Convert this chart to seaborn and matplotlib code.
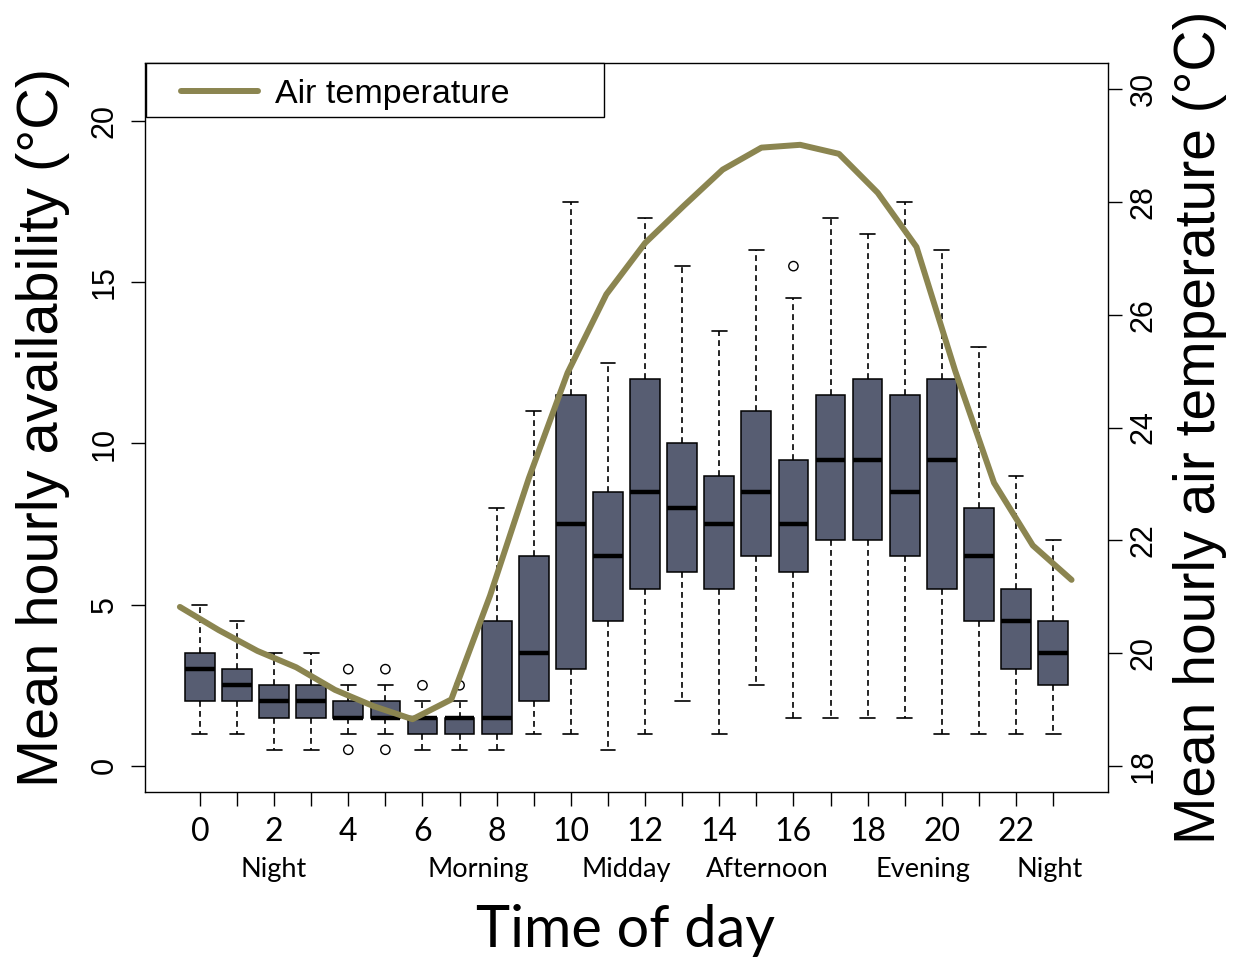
import numpy as np
import pandas as pd
import seaborn as sns
import matplotlib.pyplot as plt
from matplotlib.patches import Rectangle
from matplotlib.transforms import blended_transform_factory

# ---- data -------------------------------------------------------------
hours = list(range(24))
whisker_low = [1.0, 1.0, 0.5, 0.5, 1.0, 1.0, 0.5, 0.5, 0.5, 1.0, 1.0, 0.5,
               1.0, 2.0, 1.0, 2.5, 1.5, 1.5, 1.5, 1.5, 1.0, 1.0, 1.0, 1.0]
q1 = [2.0, 2.0, 1.5, 1.5, 1.5, 1.5, 1.0, 1.0, 1.0, 2.0, 3.0, 4.5,
      5.5, 6.0, 5.5, 6.5, 6.0, 7.0, 7.0, 6.5, 5.5, 4.5, 3.0, 2.5]
median = [3.0, 2.5, 2.0, 2.0, 1.5, 1.5, 1.5, 1.5, 1.5, 3.5, 7.5, 6.5,
          8.5, 8.0, 7.5, 8.5, 7.5, 9.5, 9.5, 8.5, 9.5, 6.5, 4.5, 3.5]
q3 = [3.5, 3.0, 2.5, 2.5, 2.0, 2.0, 1.5, 1.5, 4.5, 6.5, 11.5, 8.5,
      12.0, 10.0, 9.0, 11.0, 9.5, 11.5, 12.0, 11.5, 12.0, 8.0, 5.5, 4.5]
whisker_high = [5.0, 4.5, 3.5, 3.5, 2.5, 2.5, 2.0, 2.0, 8.0, 11.0, 17.5, 12.5,
                17.0, 15.5, 13.5, 16.0, 14.5, 17.0, 16.5, 17.5, 16.0, 13.0, 9.0, 7.0]
outlier_hours = [4, 4, 5, 5, 6, 7, 16]
outlier_values = [3.0, 0.5, 3.0, 0.5, 2.5, 2.5, 15.5]

air_temp = [20.82, 20.41, 20.04, 19.75, 19.35, 19.06, 18.83, 19.18,
            21.02, 23.10, 24.97, 26.36, 27.27, 27.93, 28.57, 28.96,
            29.01, 28.85, 28.16, 27.20, 25.00, 23.02, 21.91, 21.30]

xtick_labels = [str(h) if h % 2 == 0 else "" for h in hours]
left_ticks = [0, 5, 10, 15, 20]
right_ticks = [18, 20, 22, 24, 26, 28, 30]
period_labels = ["Night", "Morning", "Midday", "Afternoon", "Evening", "Night"]
period_centers = [2.0, 7.5, 11.5, 15.3, 19.5, 22.9]

BOX_FILL = "#575d72"
LINE_COL = "#8b8550"

# five-number summary per hour -> long table (5 points reproduce the quartiles)
rows = []
for h, a, b, c, d, e in zip(hours, whisker_low, q1, median, q3, whisker_high):
    for v in (a, b, c, d, e):
        rows.append({"hour": h, "value": v})
box_df = pd.DataFrame(rows)
out_df = pd.DataFrame({"hour": outlier_hours, "value": outlier_values})
temp_df = pd.DataFrame({"hour": hours, "temp": air_temp})

# ---- style ------------------------------------------------------------
sns.set_theme(style="ticks")
plt.rcParams["font.family"] = ["Liberation Sans", "DejaVu Sans"]
plt.rcParams["axes.linewidth"] = 1.0
plt.rcParams["text.color"] = "black"
plt.rcParams["axes.labelcolor"] = "black"
plt.rcParams["xtick.color"] = "black"
plt.rcParams["ytick.color"] = "black"

W, H = 1233, 959
fig = plt.figure(figsize=(W / 100, H / 100), dpi=100)
L, R, T, B = 145, 1108, 63, 792
rect = [L / W, 1 - B / H, (R - L) / W, (B - T) / H]
ax = fig.add_axes(rect)

sns.boxplot(data=box_df, x="hour", y="value", order=hours, ax=ax,
            color=BOX_FILL, saturation=1, width=0.8, whis=(0, 100),
            showfliers=False, linecolor="black", linewidth=1.1,
            medianprops=dict(color="black", linewidth=3.2),
            whiskerprops=dict(color="black", linewidth=1.2,
                              linestyle=(0, (3.5, 2.5))),
            capprops=dict(color="black", linewidth=1.2))
sns.scatterplot(data=out_df, x="hour", y="value", ax=ax, marker="o",
                s=45, facecolor="none", edgecolor="black", linewidth=1.0,
                zorder=5, legend=False)

ax.set_xlim(-1.48, 24.48)
ax.set_ylim(-0.81, 21.8)
ax.set_xlabel("")
ax.set_ylabel("")
for s in ax.spines.values():
    s.set_visible(True)
    s.set_color("black")
    s.set_linewidth(1.0)

ax.set_xticks(hours)
ax.set_xticklabels(xtick_labels, family=["Lato", "DejaVu Sans"], fontsize=23)
ax.set_yticks(left_ticks)
ax.set_yticklabels([str(t) for t in left_ticks], fontsize=22, rotation=90,
                   va="center")
ax.tick_params(axis="both", direction="out", length=10, width=1.0,
               color="black", labelcolor="black")
ax.tick_params(axis="x", pad=8)
ax.tick_params(axis="y", pad=8)

# ---- air temperature on its own axes ------------------------------------
ax2 = fig.add_axes(rect)
ax2.patch.set_visible(False)
for s in ax2.spines.values():
    s.set_visible(False)
sns.lineplot(data=temp_df, x="hour", y="temp", ax=ax2, color=LINE_COL,
             linewidth=4.3, legend=False, solid_joinstyle="round",
             solid_capstyle="round")
ax2.set_xlim(-0.9, 23.94)
ax2.set_ylim(17.54, 30.46)
ax2.xaxis.set_visible(False)
ax2.yaxis.tick_right()
ax2.set_ylabel("")
ax2.set_yticks(right_ticks)
ax2.set_yticklabels([str(t) for t in right_ticks], fontsize=22, rotation=90,
                    va="center")
ax2.tick_params(axis="y", direction="out", length=10, width=1.0, pad=5,
                color="black", labelcolor="black")

# ---- legend ---------------------------------------------------------------
fig.add_artist(Rectangle((146 / W, 1 - 117 / H), (604 - 146) / W, 54 / H,
                         transform=fig.transFigure, facecolor="white",
                         edgecolor="black", linewidth=1.0))
handle = ax2.get_lines()[0]
fig.legend([handle], ["Air temperature"], loc="center left",
           bbox_to_anchor=(181 / W, 1 - 94 / H), frameon=False,
           borderpad=0, borderaxespad=0, handlelength=2.25,
           handletextpad=0.5, prop={"family": "Liberation Sans", "size": 24.5})

# ---- text -------------------------------------------------------------------
trans = blended_transform_factory(ax.transData, fig.transFigure)
for lab, xc in zip(period_labels, period_centers):
    ax.text(xc, 1 - 877 / H, lab, transform=trans, ha="center",
            va="baseline", fontsize=19.5, family=["Lato", "DejaVu Sans"])

fig.text(626 / W, 1 - 947 / H, "Time of day", ha="center", va="baseline",
         fontsize=41.5, family=["Lato", "DejaVu Sans"])
fig.text(58 / W, 1 - 427 / H, "Mean hourly availability (°C)", rotation=90,
         rotation_mode="anchor", ha="center", va="baseline", fontsize=41.5)
fig.text(1215 / W, 1 - 427 / H, "Mean hourly air temperature (°C)",
         rotation=90, rotation_mode="anchor", ha="center", va="baseline",
         fontsize=41)

fig.savefig("out.png", dpi=100)
